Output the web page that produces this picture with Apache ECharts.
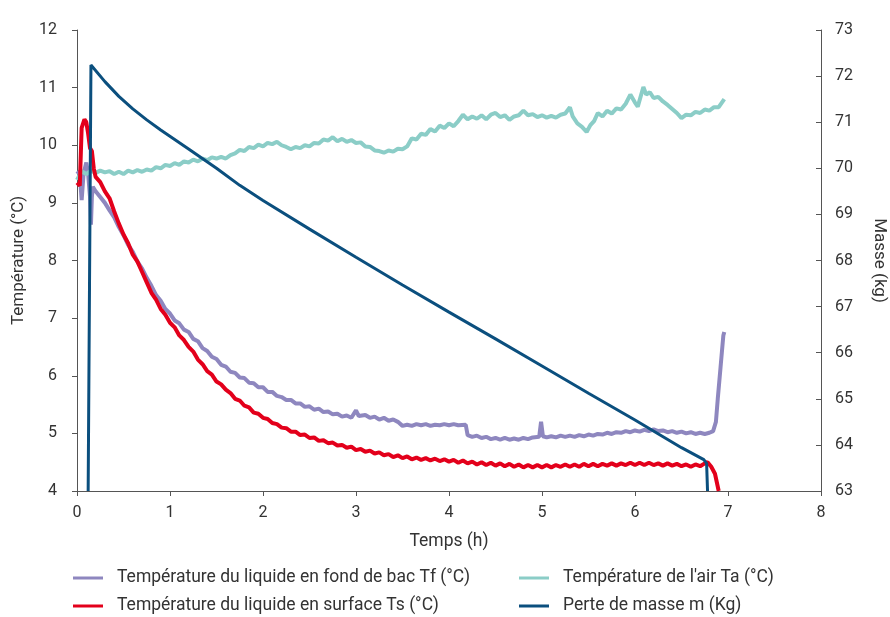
<!DOCTYPE html>
<html>
<head>
<meta charset="utf-8">
<script src="https://cdn.jsdelivr.net/npm/echarts@6/dist/echarts.min.js"></script>
<style>
  html, body { margin: 0; padding: 0; background: #fff; }
  #chart { width: 890px; height: 617px; }
</style>
</head>
<body>
<div id="chart"></div>
<script>
// temps (h) / valeur
const tfData = [
  [0, 9.55], [0.03, 9.5], [0.05, 9.05], [0.07, 9.5], [0.1, 9.7], [0.12, 9.5], [0.14, 9.1], [0.15, 8.62],
  [0.16, 9.1], [0.17, 9.28], [0.2, 9.2], [0.25, 9.1], [0.3, 9.0], [0.35, 8.87], [0.4, 8.75], [0.45, 8.58],
  [0.5, 8.44], [0.55, 8.27], [0.6, 8.15], [0.65, 7.98], [0.7, 7.86], [0.75, 7.7], [0.8, 7.56], [0.85, 7.4],
  [0.9, 7.3], [0.95, 7.16], [1.0, 7.08], [1.05, 6.96], [1.1, 6.91], [1.15, 6.8], [1.2, 6.76], [1.25, 6.64],
  [1.3, 6.6], [1.35, 6.48], [1.4, 6.43], [1.45, 6.33], [1.5, 6.29], [1.55, 6.19], [1.6, 6.16], [1.65, 6.07],
  [1.7, 6.05], [1.75, 5.97], [1.8, 5.96], [1.85, 5.88], [1.9, 5.87], [1.95, 5.8], [2.0, 5.8], [2.05, 5.72],
  [2.1, 5.72], [2.15, 5.65], [2.2, 5.63], [2.25, 5.58], [2.3, 5.58], [2.35, 5.52], [2.4, 5.52], [2.45, 5.46],
  [2.5, 5.47], [2.55, 5.41], [2.6, 5.43], [2.65, 5.37], [2.7, 5.38], [2.75, 5.33], [2.8, 5.34], [2.85, 5.29],
  [2.9, 5.31], [2.95, 5.27], [3.0, 5.4], [3.03, 5.3], [3.1, 5.32], [3.15, 5.27], [3.2, 5.29], [3.25, 5.24],
  [3.3, 5.27], [3.35, 5.22], [3.4, 5.24], [3.45, 5.2], [3.5, 5.13], [3.55, 5.15], [3.6, 5.13], [3.65, 5.16],
  [3.7, 5.14], [3.75, 5.16], [3.8, 5.13], [3.85, 5.15], [3.9, 5.14], [3.95, 5.16], [4.0, 5.14], [4.05, 5.16],
  [4.1, 5.14], [4.18, 5.15], [4.2, 4.97], [4.25, 4.94], [4.3, 4.96], [4.35, 4.92], [4.4, 4.94], [4.45, 4.9],
  [4.5, 4.92], [4.55, 4.89], [4.6, 4.92], [4.65, 4.89], [4.7, 4.91], [4.75, 4.89], [4.8, 4.92], [4.85, 4.9],
  [4.9, 4.93], [4.97, 4.94], [4.99, 5.2], [5.01, 4.95], [5.05, 4.93], [5.1, 4.95], [5.15, 4.93], [5.2, 4.96],
  [5.25, 4.94], [5.3, 4.96], [5.35, 4.94], [5.4, 4.97], [5.45, 4.95], [5.5, 4.98], [5.55, 4.96], [5.6, 4.99],
  [5.65, 4.98], [5.7, 5.01], [5.75, 4.99], [5.8, 5.02], [5.85, 5.01], [5.9, 5.04], [5.95, 5.02], [6.0, 5.05],
  [6.05, 5.03], [6.1, 5.06], [6.15, 5.04], [6.2, 5.07], [6.25, 5.04], [6.3, 5.05], [6.35, 5.02], [6.4, 5.04],
  [6.45, 5.01], [6.5, 5.03], [6.55, 5.0], [6.6, 5.02], [6.65, 4.99], [6.7, 5.01], [6.75, 4.99], [6.8, 5.01],
  [6.84, 5.04], [6.87, 5.2], [6.89, 5.6], [6.92, 6.15], [6.95, 6.7], [6.96, 6.76]
];
const tsData = [
  [0, 9.35], [0.03, 9.3], [0.05, 10.3], [0.08, 10.45], [0.1, 10.4], [0.12, 10.2], [0.14, 9.95], [0.16, 9.9],
  [0.18, 9.6], [0.2, 9.45], [0.25, 9.36], [0.3, 9.2], [0.35, 9.08], [0.4, 8.85], [0.45, 8.64], [0.5, 8.45],
  [0.55, 8.3], [0.6, 8.1], [0.65, 7.98], [0.7, 7.8], [0.75, 7.62], [0.8, 7.44], [0.85, 7.32], [0.9, 7.16],
  [0.95, 7.06], [1.0, 6.92], [1.05, 6.84], [1.1, 6.7], [1.15, 6.62], [1.2, 6.5], [1.25, 6.42], [1.3, 6.28],
  [1.35, 6.2], [1.4, 6.08], [1.45, 6.02], [1.5, 5.9], [1.55, 5.85], [1.6, 5.76], [1.65, 5.7], [1.7, 5.6],
  [1.75, 5.57], [1.8, 5.48], [1.85, 5.45], [1.9, 5.36], [1.95, 5.34], [2.0, 5.27], [2.05, 5.25], [2.1, 5.18],
  [2.15, 5.16], [2.2, 5.1], [2.25, 5.09], [2.3, 5.03], [2.35, 5.03], [2.4, 4.97], [2.45, 4.98], [2.5, 4.92],
  [2.55, 4.93], [2.6, 4.87], [2.65, 4.88], [2.7, 4.83], [2.75, 4.84], [2.8, 4.79], [2.85, 4.8], [2.9, 4.75],
  [2.95, 4.77], [3.0, 4.71], [3.05, 4.73], [3.1, 4.68], [3.15, 4.7], [3.2, 4.65], [3.25, 4.67], [3.3, 4.62],
  [3.35, 4.64], [3.4, 4.59], [3.45, 4.62], [3.5, 4.57], [3.55, 4.6], [3.6, 4.55], [3.65, 4.58], [3.7, 4.54],
  [3.75, 4.57], [3.8, 4.53], [3.85, 4.56], [3.9, 4.52], [3.95, 4.55], [4.0, 4.51], [4.05, 4.54], [4.1, 4.49],
  [4.15, 4.53], [4.2, 4.48], [4.25, 4.51], [4.3, 4.46], [4.35, 4.5], [4.4, 4.45], [4.45, 4.49], [4.5, 4.44],
  [4.55, 4.48], [4.6, 4.43], [4.65, 4.47], [4.7, 4.42], [4.75, 4.46], [4.8, 4.41], [4.85, 4.45], [4.9, 4.41],
  [4.95, 4.45], [5.0, 4.41], [5.05, 4.45], [5.1, 4.41], [5.15, 4.45], [5.2, 4.42], [5.25, 4.46], [5.3, 4.42],
  [5.35, 4.46], [5.4, 4.42], [5.45, 4.47], [5.5, 4.43], [5.55, 4.47], [5.6, 4.43], [5.65, 4.47], [5.7, 4.44],
  [5.75, 4.48], [5.8, 4.44], [5.85, 4.48], [5.9, 4.45], [5.95, 4.49], [6.0, 4.45], [6.05, 4.49], [6.1, 4.45],
  [6.15, 4.49], [6.2, 4.45], [6.25, 4.48], [6.3, 4.44], [6.35, 4.48], [6.4, 4.44], [6.45, 4.47], [6.5, 4.43],
  [6.55, 4.46], [6.6, 4.42], [6.65, 4.46], [6.7, 4.43], [6.75, 4.48], [6.78, 4.5], [6.82, 4.42], [6.86, 4.3],
  [6.9, 4.0]
];
const taData = [
  [0, 9.4], [0.05, 9.55], [0.1, 9.5], [0.15, 9.56], [0.2, 9.52], [0.25, 9.56], [0.3, 9.53], [0.35, 9.55],
  [0.4, 9.5], [0.45, 9.54], [0.5, 9.5], [0.55, 9.56], [0.6, 9.53], [0.65, 9.57], [0.7, 9.54], [0.75, 9.58],
  [0.8, 9.56], [0.85, 9.62], [0.9, 9.6], [0.95, 9.66], [1.0, 9.64], [1.05, 9.69], [1.1, 9.66], [1.15, 9.72],
  [1.2, 9.7], [1.25, 9.75], [1.3, 9.72], [1.35, 9.77], [1.4, 9.74], [1.45, 9.79], [1.5, 9.77], [1.55, 9.8],
  [1.6, 9.77], [1.65, 9.83], [1.7, 9.86], [1.75, 9.92], [1.8, 9.9], [1.85, 9.97], [1.9, 9.95], [1.95, 10.01],
  [2.0, 9.98], [2.05, 10.04], [2.1, 10.02], [2.15, 10.06], [2.2, 10.0], [2.25, 9.97], [2.3, 9.93], [2.35, 9.97],
  [2.4, 9.95], [2.45, 10.0], [2.5, 9.98], [2.55, 10.04], [2.6, 10.03], [2.65, 10.1], [2.7, 10.08], [2.75, 10.14],
  [2.8, 10.07], [2.85, 10.11], [2.9, 10.06], [2.95, 10.09], [3.0, 10.04], [3.05, 10.05], [3.1, 9.98], [3.15, 9.97],
  [3.2, 9.91], [3.25, 9.9], [3.3, 9.87], [3.35, 9.91], [3.4, 9.89], [3.45, 9.94], [3.5, 9.93], [3.55, 9.98],
  [3.6, 10.12], [3.65, 10.1], [3.7, 10.2], [3.75, 10.18], [3.8, 10.28], [3.85, 10.24], [3.9, 10.34], [3.95, 10.3],
  [4.0, 10.38], [4.05, 10.33], [4.1, 10.42], [4.15, 10.53], [4.2, 10.45], [4.25, 10.5], [4.3, 10.46], [4.35, 10.52],
  [4.4, 10.45], [4.45, 10.53], [4.5, 10.56], [4.55, 10.49], [4.6, 10.52], [4.65, 10.44], [4.7, 10.5], [4.75, 10.52],
  [4.8, 10.6], [4.85, 10.52], [4.9, 10.54], [4.95, 10.49], [5.0, 10.52], [5.05, 10.48], [5.1, 10.51], [5.15, 10.48],
  [5.2, 10.53], [5.25, 10.55], [5.3, 10.66], [5.33, 10.5], [5.38, 10.38], [5.43, 10.32], [5.48, 10.23], [5.52, 10.35],
  [5.56, 10.42], [5.6, 10.56], [5.65, 10.5], [5.7, 10.6], [5.75, 10.55], [5.8, 10.64], [5.85, 10.62], [5.9, 10.72],
  [5.95, 10.88], [6.0, 10.74], [6.03, 10.67], [6.09, 11.01], [6.12, 10.88], [6.16, 10.92], [6.2, 10.82], [6.25, 10.84],
  [6.3, 10.76], [6.35, 10.7], [6.4, 10.63], [6.45, 10.56], [6.5, 10.47], [6.55, 10.53], [6.6, 10.52], [6.65, 10.58],
  [6.7, 10.56], [6.75, 10.62], [6.8, 10.6], [6.85, 10.66], [6.9, 10.66], [6.96, 10.8]
];
const massData = [
  [0.12, 63], [0.15, 72.24], [0.3, 71.88], [0.45, 71.56], [0.6, 71.29], [0.75, 71.05], [0.9, 70.83],
  [1.2, 70.42], [1.5, 70.0], [1.75, 69.63], [2.0, 69.3], [2.5, 68.68], [3.0, 68.07], [3.5, 67.47],
  [4.0, 66.88], [4.5, 66.3], [5.0, 65.71], [5.5, 65.12], [6.0, 64.54], [6.5, 63.94], [6.74, 63.68],
  [6.77, 63.6], [6.78, 63.0]
];

const names = [
  'Température du liquide en fond de bac Tf (°C)',
  "Température de l'air Ta (°C)",
  'Température du liquide en surface Ts (°C)',
  'Perte de masse m (Kg)'
];
const colors = ['#8e87bf', '#8bcdc7', '#e3001b', '#0b4f7e'];

const chart = echarts.init(document.getElementById('chart'));
const font = 'Roboto, "DejaVu Sans", sans-serif';
const axisLine = { show: true, lineStyle: { color: '#555', width: 1 } };

const legendAt = (name, left, top) => ({
  left, top, padding: 0, icon: 'rect', itemWidth: 30, itemHeight: 3,
  selectedMode: false,
  textStyle: { fontSize: 17.5, color: '#333', fontFamily: font, padding: [0, 0, 0, 9] },
  data: [name]
});

chart.setOption({
  animation: false,
  textStyle: { fontFamily: font, color: '#333' },
  grid: { left: 77, right: 69, top: 30, bottom: 126, outerBoundsMode: 'none', containLabel: false },
  legend: [
    legendAt(names[0], 73, 569),
    legendAt(names[2], 73, 597),
    legendAt(names[1], 519, 569),
    legendAt(names[3], 519, 597)
  ],
  xAxis: {
    type: 'value', min: 0, max: 8, interval: 1,
    name: 'Temps (h)', nameLocation: 'middle', nameGap: 42,
    nameTextStyle: { fontSize: 17.5, color: '#333' },
    axisLine, axisTick: { show: true, length: 5, lineStyle: { color: '#555' } },
    axisLabel: { fontSize: 16, color: '#333', margin: 14 },
    splitLine: { show: false }
  },
  yAxis: [{
    type: 'value', min: 4, max: 12, interval: 1,
    name: 'Température (°C)', nameLocation: 'middle', nameGap: 50, nameRotate: 90,
    nameTextStyle: { fontSize: 17, color: '#333' },
    axisLine, axisTick: { show: true, length: 5, lineStyle: { color: '#555' } },
    axisLabel: { fontSize: 16, color: '#333', margin: 20 },
    splitLine: { show: false }
  }, {
    type: 'value', min: 63, max: 73, interval: 1, position: 'right',
    name: 'Masse (kg)', nameLocation: 'middle', nameGap: 50, nameRotate: -90,
    nameTextStyle: { fontSize: 17, color: '#333' },
    axisLine, axisTick: { show: true, inside: true, length: 5, lineStyle: { color: '#555' } },
    axisLabel: { fontSize: 16, color: '#333', margin: 14 },
    splitLine: { show: false }
  }],
  series: [
    { name: names[0], type: 'line', data: tfData, yAxisIndex: 0, showSymbol: false,
      lineStyle: { width: 4, color: colors[0] }, itemStyle: { color: colors[0] }, z: 2 },
    { name: names[1], type: 'line', data: taData, yAxisIndex: 0, showSymbol: false,
      lineStyle: { width: 4, color: colors[1] }, itemStyle: { color: colors[1] }, z: 2 },
    { name: names[2], type: 'line', data: tsData, yAxisIndex: 0, showSymbol: false,
      lineStyle: { width: 4, color: colors[2] }, itemStyle: { color: colors[2] }, z: 3 },
    { name: names[3], type: 'line', data: massData, yAxisIndex: 1, showSymbol: false,
      lineStyle: { width: 3, color: colors[3] }, itemStyle: { color: colors[3] }, z: 4 }
  ]
});
</script>
</body>
</html>
